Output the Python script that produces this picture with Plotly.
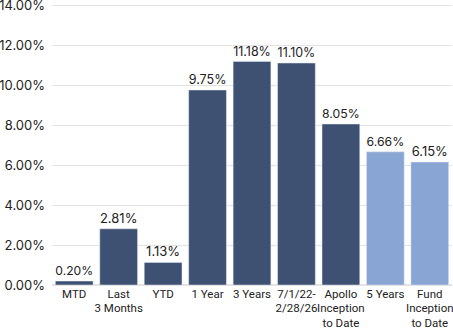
import plotly.graph_objects as go

categories = ["MTD", "Last<br>3 Months", "YTD", "1 Year", "3 Years", "7/1/22-<br>2/28/26",
              "Apollo<br>Inception<br>to Date", "5 Years", "Fund<br>Inception<br>to Date"]
values = [0.20, 2.81, 1.13, 9.75, 11.18, 11.10, 8.05, 6.66, 6.15]
y_ticks = [0, 2, 4, 6, 8, 10, 12, 14]
y_tick_labels = [f"{v:.2f}%" for v in y_ticks]
dark = "#3e5172"
light = "#88a5d3"
colors = [dark] * 7 + [light] * 2

fig = go.Figure(go.Bar(
    x=categories, y=values, marker_color=colors,
    text=[f"{v:.2f}%" for v in values], textposition="outside",
    textfont=dict(size=13, color="#222222"), cliponaxis=False,
))
fig.update_layout(
    width=453, height=331, margin=dict(l=52, r=1, t=3, b=46),
    plot_bgcolor="white", paper_bgcolor="white",
    font=dict(family="Inter", size=12, color="#222222"),
    bargap=0.15, showlegend=False,
    xaxis=dict(showgrid=False, tickfont=dict(size=11.5, family="Roboto"), ticks="", showline=False,
               tickangle=0, automargin=False),
    yaxis=dict(range=[0, 14.1], tickmode="array", tickvals=y_ticks, ticktext=y_tick_labels,
               gridcolor="#e3e3e3", zeroline=True, zerolinecolor="#e3e3e3",
               tickfont=dict(size=13), ticklabelstandoff=6, automargin=False,
               ticklabeloverflow="allow"),
)
fig.write_html("out.html")
